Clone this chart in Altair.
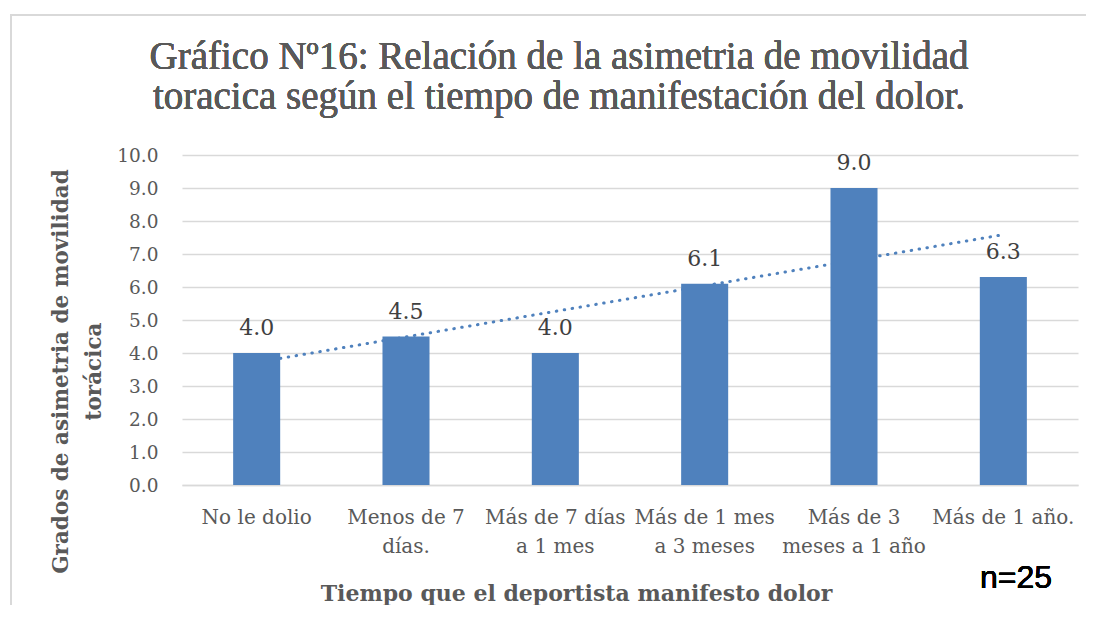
import altair as alt
import numpy as np
import pandas as pd

title_lines = [
    "Gráfico Nº16: Relación de la asimetria de movilidad",
    "toracica según el tiempo de manifestación del dolor.",
]
categories = [
    "No le dolio",
    "Menos de 7\ndías.",
    "Más de 7 días\na 1 mes",
    "Más de 1 mes\na 3 meses",
    "Más de 3\nmeses a 1 año",
    "Más de 1 año.",
]
values = [4.0, 4.5, 4.0, 6.1, 9.0, 6.3]
y_ticks = [0, 1, 2, 3, 4, 5, 6, 7, 8, 9, 10]

idx = np.arange(1, len(values) + 1)
slope, intercept = np.polyfit(idx, values, 1)
trend = list(intercept + slope * idx)

df = pd.DataFrame({"cat": categories, "val": values, "trend": trend})

SERIF = "DejaVu Serif"
BLUE = "#4F81BD"
GREY_TEXT = "#595959"

W, H = 896, 330

xenc = alt.X(
    "cat:N",
    sort=categories,
    scale=alt.Scale(paddingInner=0.685, paddingOuter=0.3425),
    axis=alt.Axis(
        title="Tiempo que el deportista manifesto dolor",
        labelExpr="split(datum.label, '\\n')",
        labelAngle=0,
        labelFont=SERIF,
        labelFontSize=20,
        labelColor=GREY_TEXT,
        labelLineHeight=29,
        labelPadding=38,
        labelBaseline="alphabetic",
        labelLimit=300,
        ticks=False,
        domainColor="#D9D9D9",
        domainWidth=1.3,
        titleFont=SERIF,
        titleFontSize=22,
        titleFontWeight="bold",
        titleColor=GREY_TEXT,
        titleX=394,
        titleY=115,
        titleAlign="center",
        titleBaseline="alphabetic",
    ),
)

yscale = alt.Scale(domain=[0, 10], nice=False)
yaxis = alt.Axis(
    title=["Grados de asimetria de movilidad", "torácica"],
    values=y_ticks,
    tickCount=11,
    format=".1f",
    labelFont=SERIF,
    labelFontSize=18.5,
    labelColor=GREY_TEXT,
    labelPadding=24,
    labelOverlap=False,
    ticks=False,
    domain=False,
    grid=True,
    gridColor="#D9D9D9",
    gridWidth=1.3,
    titleFont=SERIF,
    titleFontSize=21.5,
    titleFontWeight="bold",
    titleColor=GREY_TEXT,
    titleAngle=-90,
    titleX=-121,
    titleY=216,
    titleAlign="center",
    titleBaseline="middle",
    titleLineHeight=33,
)

trend_line = alt.Chart(df).mark_line(
    color=BLUE, strokeWidth=3, strokeDash=[0.5, 7.5], strokeCap="round"
).encode(x=xenc, y=alt.Y("trend:Q", scale=yscale, axis=yaxis))

bars = alt.Chart(df).mark_bar(color=BLUE).encode(
    x=xenc, y=alt.Y("val:Q", scale=yscale, axis=yaxis)
)

labels = alt.Chart(df).mark_text(
    font=SERIF, fontSize=22, color="#404040", dy=-18, baseline="alphabetic"
).encode(
    x=xenc,
    y=alt.Y("val:Q", scale=yscale, axis=yaxis),
    text=alt.Text("val:Q", format=".1f"),
)

border = alt.Chart(df).mark_rect(
    filled=False, stroke="#D9D9D9", strokeWidth=2
).encode(x=alt.value(-171), x2=alt.value(W + 40), y=alt.value(-140), y2=alt.value(H + 200))

title_text = alt.Chart(df).mark_text(
    text=title_lines,
    font="Liberation Serif",
    fontSize=39,
    color=GREY_TEXT,
    align="center",
    baseline="alphabetic",
    lineHeight=40,
).encode(x=alt.value(377), y=alt.value(-86))

n_text = alt.Chart(df).mark_text(
    font="Liberation Sans", fontSize=32, color="#000000", align="left", baseline="alphabetic", text="n=25"
).encode(x=alt.value(798), y=alt.value(433))

chart = alt.layer(trend_line, bars, labels, border, title_text, n_text).properties(
    width=W,
    height=H,
    autosize=alt.AutoSizeParams(type="none"),
    padding={"left": 174, "top": 147, "right": 8, "bottom": 120},
).configure_view(stroke=None)

chart.save("out.html", embed_options={"renderer": "svg", "actions": False})
